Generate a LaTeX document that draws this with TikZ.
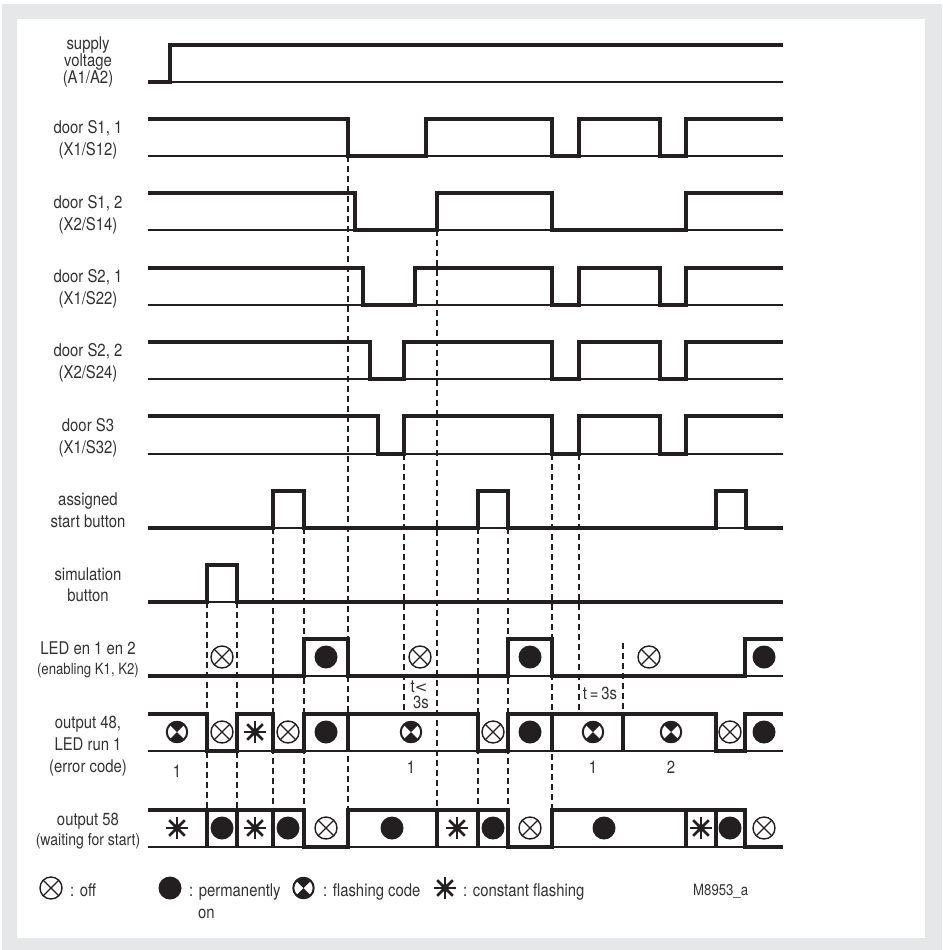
\documentclass[tikz,border=0pt]{standalone}
\usepackage{fontspec}
\setmainfont{TeX Gyre Heros}[FakeStretch=0.85]
\newfontfamily\symfont{DejaVu Sans}
\definecolor{framegray}{HTML}{E6E7E8}
\definecolor{ink}{HTML}{231F20}
\definecolor{txt}{HTML}{333333}
\tikzset{
  sig/.style={line width=3.1pt, draw=ink, line join=miter},
  thinbase/.style={line width=1.5pt, draw=ink},
  boxbase/.style={line width=2.8pt, draw=ink},
  guide/.style={line width=1.2pt, draw=ink, dash pattern=on 6pt off 4pt},
  lbl/.style={anchor=base, inner sep=0pt, text=txt, font=\fontsize{17.5}{20}\selectfont},
  lbls/.style={lbl, font=\fontsize{15.5}{18}\selectfont},
  lblm/.style={lbl, font=\fontsize{16.5}{19}\selectfont},
  lgd/.style={anchor=base west, inner sep=0pt, text=txt, font=\fontsize{17.5}{20}\selectfont},
  offsym/.pic={\draw[ink, line width=1.4pt] (0,0) circle[radius=11pt];
    \draw[ink, line width=1.3pt] (-7.8,-7.8)--(7.8,7.8) (-7.8,7.8)--(7.8,-7.8);},
  onsym/.pic={\fill[ink] (0,0) circle[radius=11.5pt];},
  flashsym/.pic={\begin{scope}\clip (0,0) circle[radius=11pt];
      \fill[ink] (0,0) -- (-13,-13) -- (13,-13) -- cycle;
      \fill[ink] (0,0) -- (-13,13) -- (13,13) -- cycle;\end{scope}
    \draw[ink, line width=2pt] (0,0) circle[radius=10.2pt];},
  starsym/.pic={\foreach \a in {0,45,...,315} \draw[ink, line width=2.7pt] (0,0) -- (\a:11pt);
    \fill[ink] (0,0) circle[radius=4pt];}
}
\begin{document}
\begin{tikzpicture}[x=1pt,y=-1pt]
\useasboundingbox (0,0) rectangle (942,950);
\fill[white] (0,0) rectangle (942,950);
\fill[framegray] (2,4) rectangle (942,950);
\fill[white] (17,19) rectangle (925,938);

% dashed guide lines
\draw[guide] (207,602) -- (207,810);
\draw[guide] (237,602) -- (237,810);
\draw[guide] (273,528) -- (273,810);
\draw[guide] (304,528) -- (304,810);
\draw[guide] (348,156) -- (348,810);
\draw[guide] (404,454) -- (404,714);
\draw[guide] (437,230) -- (437,810);
\draw[guide] (478,528) -- (478,810);
\draw[guide] (508,528) -- (508,810);
\draw[guide] (552,454) -- (552,810);
\draw[guide] (579,454) -- (579,714);
\draw[guide] (623,643) -- (623,714);

% baselines
\foreach \yb in {82,156,230,305,379,454,528,602,676}
  \draw[thinbase] (148,\yb) -- (783,\yb);
\draw[boxbase] (148,751) -- (783,751);
\draw[boxbase] (148,847) -- (783,847);

% supply voltage
\draw[sig] (148,82) -- (170,82) -- (170,45) -- (783,45);
% door S1,1
\draw[sig] (148,119) -- (348,119) -- (348,156) -- (426,156) -- (426,119) -- (552,119) -- (552,156) -- (579,156) -- (579,119) -- (660,119) -- (660,156) -- (686,156) -- (686,119) -- (783,119);
% door S1,2
\draw[sig] (148,193) -- (355,193) -- (355,230) -- (437,230) -- (437,193) -- (552,193) -- (552,230) -- (686,230) -- (686,193) -- (783,193);
% door S2,1
\draw[sig] (148,268) -- (363,268) -- (363,305) -- (415,305) -- (415,268) -- (552,268) -- (552,305) -- (579,305) -- (579,268) -- (660,268) -- (660,305) -- (686,305) -- (686,268) -- (783,268);
% door S2,2
\draw[sig] (148,342) -- (370,342) -- (370,379) -- (404,379) -- (404,342) -- (552,342) -- (552,379) -- (579,379) -- (579,342) -- (660,342) -- (660,379) -- (686,379) -- (686,342) -- (783,342);
% door S3
\draw[sig] (148,416) -- (378,416) -- (378,454) -- (404,454) -- (404,416) -- (552,416) -- (552,454) -- (579,454) -- (579,416) -- (660,416) -- (660,454) -- (686,454) -- (686,416) -- (783,416);
% assigned start button
\draw[sig] (148,528) -- (273,528) -- (273,491) -- (304,491) -- (304,528) -- (478,528) -- (478,491) -- (508,491) -- (508,528) -- (716,528) -- (716,491) -- (746,491) -- (746,528) -- (783,528);
% simulation button
\draw[sig] (148,602) -- (207,602) -- (207,565) -- (237,565) -- (237,602) -- (783,602);
% LED en 1 en 2
\draw[sig] (148,676) -- (304,676) -- (304,639) -- (348,639) -- (348,676) -- (508,676) -- (508,639) -- (552,639) -- (552,676) -- (745,676) -- (745,639) -- (783,639);
% output 48
\draw[sig] (148,714) -- (207,714) -- (207,751) -- (237,751) -- (237,714) -- (273,714) -- (273,751) -- (304,751) -- (304,714) -- (478,714) -- (478,751) -- (508,751) -- (508,714) -- (716,714) -- (716,751) -- (745,751) -- (745,714) -- (783,714);
\foreach \xs in {348,552,623} \draw[sig] (\xs,714) -- (\xs,751);
% output 58
\draw[sig] (148,810) -- (304,810) -- (304,847) -- (348,847) -- (348,810) -- (508,810) -- (508,847) -- (552,847) -- (552,810) -- (745,810) -- (745,847) -- (783,847);
\foreach \xs in {207,237,273,437,478,686,716} \draw[sig] (\xs,810) -- (\xs,847);

% symbols LED row
\pic at (222,657) {offsym};
\pic at (326,657) {onsym};
\pic at (420,657) {offsym};
\pic at (530,657) {onsym};
\pic at (649,657) {offsym};
\pic at (764,657) {onsym};
% symbols output 48
\pic at (177,732) {flashsym};
\pic at (222,732) {offsym};
\pic at (255,732) {starsym};
\pic at (288,732) {offsym};
\pic at (326,732) {onsym};
\pic at (411,732) {flashsym};
\pic at (493,732) {offsym};
\pic at (530,732) {onsym};
\pic at (593,732) {flashsym};
\pic at (671,732) {flashsym};
\pic at (730,732) {offsym};
\pic at (764,732) {onsym};
% symbols output 58
\pic at (177,828) {starsym};
\pic at (222,828) {onsym};
\pic at (255,828) {starsym};
\pic at (288,828) {onsym};
\pic at (326,828) {offsym};
\pic at (392,828) {onsym};
\pic at (457,828) {starsym};
\pic at (493,828) {onsym};
\pic at (530,828) {offsym};
\pic at (604,828) {onsym};
\pic at (701,828) {starsym};
\pic at (730,828) {onsym};
\pic at (764,828) {offsym};

% row labels
\node[lbl] (sv1) at (88,50) {supply};
\node[lbl] (sv2) at (88,66.5) {voltage};
\node[lbl] (sv3) at (88,83) {(A1/A2)};
\node[lbl] (a1) at (88,133) {door S1, 1};
\node[lbl] (a2) at (88,155) {(X1/S12)};
\node[lbl] (b1) at (88,208) {door S1, 2};
\node[lbl] (b2) at (88,230) {(X2/S14)};
\node[lbl] (c1) at (88,282) {door S2, 1};
\node[lbl] (c2) at (88,304) {(X1/S22)};
\node[lbl] (d1) at (88,356) {door S2, 2};
\node[lbl] (d2) at (88,378) {(X2/S24)};
\node[lbl] (e1) at (88,431) {door S3};
\node[lbl] (e2) at (88,453) {(X1/S32)};
\node[lbl] (f1) at (88,505.5) {assigned};
\node[lbl] (f2) at (88,527.5) {start button};
\node[lbl] (g1) at (88,580) {simulation};
\node[lbl] (g2) at (88,601.5) {button};
\node[lbl] (h1) at (88,654) {LED en 1 en 2};
\node[lbls] (h2) at (88,674) {(enabling K1, K2)};
\node[lbl] (i1) at (88,728) {output 48,};
\node[lbl] (i2) at (88,750.5) {LED run 1};
\node[lbl] (i3) at (88,772) {(error code)};
\node[lbl] (j1) at (88,825) {output 58};
\node[lblm] (j2) at (88,845.5) {(waiting for start)};

% code numbers
\node[lbl] (n1) at (177,777) {1};
\node[lbl] (n2) at (411,773) {1};
\node[lbl] (n3) at (593,773) {1};
\node[lbl] (n4) at (671,773) {2};

% time annotations
\node[lbl] (t1) at (419,692) {t{\symfont\fontsize{15}{16}\selectfont <}};
\node[lbl] (t2) at (421,708) {3s};
\node[lbl] (t3) at (600,699) {t\,=\,3s};

% legend
\pic at (51,888) {offsym};
\node[lgd] (l1) at (70,896) {: off};
\pic at (170,888) {onsym};
\node[lgd] (l2) at (189,896) {: permanently};
\node[lgd] (l2b) at (198,918) {on};
\pic at (303.5,888) {flashsym};
\node[lgd] (l3) at (323,896) {: flashing code};
\pic at (445,888) {starsym};
\node[lgd] (l4) at (463,896) {: constant flashing};
\node[lgd, font=\fontsize{15.5}{18}\selectfont] (mk) at (693,895) {M8953\_a};
\end{tikzpicture}
\end{document}
